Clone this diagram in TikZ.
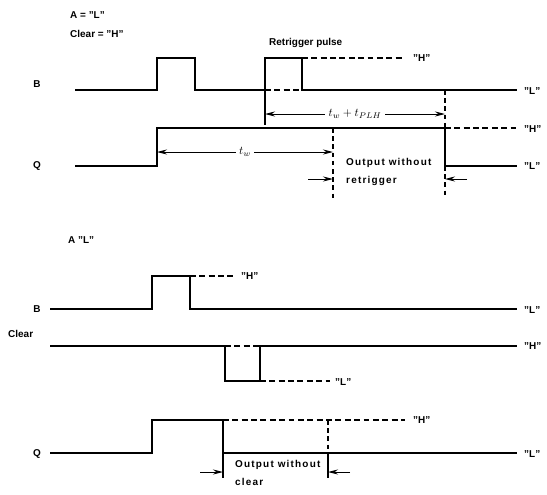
\documentclass[tikz,border=0pt]{standalone}
\usepackage{fontspec}
\setmainfont{Liberation Sans}
\usetikzlibrary{arrows.meta}
\tikzset{
  >={Stealth[length=3mm, width=1.5mm]},
  sig/.style={line width=2.1pt, line join=miter},
  lvl/.style={line width=1pt, dash pattern=on 5pt off 3pt},
  guide/.style={line width=1pt, dash pattern=on 4pt off 3pt},
  tickln/.style={line width=1pt},
  dimln/.style={<->, line width=0.8pt},
  outarr/.style={->, line width=0.8pt},
  lbl/.style={font=\bfseries\fontsize{8.5}{9}\selectfont, inner sep=0pt, anchor=west},
  note/.style={lbl, anchor=north west, align=left,
               font=\bfseries\fontsize{8.5}{15}\selectfont\addfontfeature{LetterSpace=12}},
}

\begin{document}
\begin{tikzpicture}[x=0.03cm, y=-0.03cm]
    \useasboundingbox (0,0) rectangle (547,495);

    % retriggered case
    \node[lbl] (acond) at (70,15) {A = "L"};
    \node[lbl] (ccond) at (70,34) {Clear = "H"};
    \node[lbl] (rtp) at (269,43) {Retrigger pulse};

    \node[lbl, anchor=center] (bsig) at (37,84) {B};
    \draw[sig] (75,90) -| (157,58) -| (195,90) -| (265,58) -| (302,90) -- (517,90);
    \draw[lvl] (265,90) -- (302,90);
    \draw[lvl] (302,58) -- (405,58);
    \node[lbl] (bh) at (413,58) {"H"};
    \node[lbl] (bl) at (524,91) {"L"};

    \node[lbl, anchor=center] (qsig) at (37,166) {Q};
    \draw[sig] (75,166) -| (157,128) -| (445,166) -- (517,166);
    \draw[lvl] (445,128) -- (517,128);
    \node[lbl] (qh) at (524,129) {"H"};
    \node[lbl] (ql) at (524,166) {"L"};

    % time marks
    \coordinate (rt) at (265,114);
    \coordinate (qend) at (445,114);
    \coordinate (qup) at (157,152);
    \coordinate (tw) at (333,152);
    \draw[tickln] (265,90) -- (265,125);
    \draw[guide] (445,90) -- (445,128);
    \draw[guide] (445,166) -- (445,198);
    \draw[guide] (333,128) -- (333,200);
    \draw[dimln] (rt) -- node[fill=white, inner xsep=3pt, inner ysep=1pt] (twplh) {$t_w + t_{PLH}$} (qend);
    \draw[dimln] (qup) -- node[fill=white, inner xsep=3pt, inner ysep=1pt] (twl) {$t_w$} (tw);
    \coordinate (a1) at (308,179);
    \coordinate (a1e) at (333,179);
    \coordinate (a2) at (467,179);
    \coordinate (a2e) at (445,179);
    \draw[outarr] (a1) -- (a1e);
    \draw[outarr] (a2) -- (a2e);
    \node[note] (owr) at (346,158) {Output without\\retrigger};

    % cleared case
    \node[lbl] (acond2) at (68,240) {A "L"};

    \node[lbl, anchor=center] (bsig2) at (37,309) {B};
    \draw[sig] (50,309) -| (152,276) -| (190,309) -- (517,309);
    \draw[lvl] (190,276) -- (235,276);
    \node[lbl] (bh2) at (241,276) {"H"};
    \node[lbl] (bl2) at (524,310) {"L"};

    \node[lbl] (csig) at (8,334) {Clear};
    \draw[sig] (50,346) -| (225,381) -| (260,346) -- (517,346);
    \draw[lvl] (225,346) -- (260,346);
    \draw[lvl] (260,381) -- (330,381);
    \node[lbl] (cl) at (335,382) {"L"};
    \node[lbl] (ch) at (524,346) {"H"};

    \node[lbl, anchor=center] (qsig2) at (37,454) {Q};
    \draw[sig] (50,453) -| (152,420) -| (223,453) -- (517,453);
    \draw[lvl] (223,420) -- (405,420);
    \node[lbl] (qh2) at (413,420) {"H"};
    \node[lbl] (ql2) at (524,454) {"L"};

    \draw[tickln] (223,453) -- (223,478);
    \draw[guide] (328,420) -- (328,453);
    \draw[tickln] (328,453) -- (328,478);
    \coordinate (b1) at (200,472);
    \coordinate (b1e) at (223,472);
    \coordinate (b2) at (350,472);
    \coordinate (b2e) at (328,472);
    \draw[outarr] (b1) -- (b1e);
    \draw[outarr] (b2) -- (b2e);
    \node[note] (owc) at (235,460) {Output without\\clear};
\end{tikzpicture}
\end{document}
